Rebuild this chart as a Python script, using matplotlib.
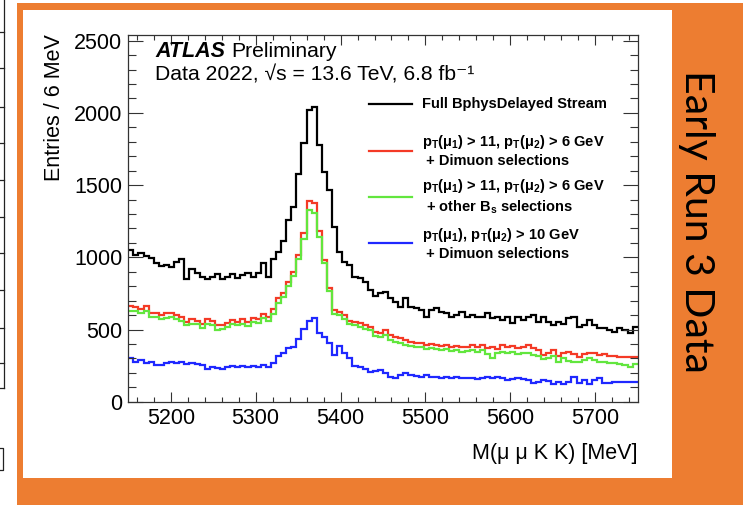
import numpy as np
import matplotlib
matplotlib.use("Agg")
import matplotlib.pyplot as plt
from matplotlib.ticker import MultipleLocator
from matplotlib.patches import Rectangle
from matplotlib.lines import Line2D

# ---- binning: 6 MeV bins from 5150 to 5750 MeV ----
mass_low, mass_high, bin_width = 5150, 5750, 6
edges = np.arange(mass_low, mass_high + 1, bin_width)

# ---- entries per bin ----
full_stream = [1050, 1016, 1027, 1009, 993, 958, 940, 947, 935, 970,
               986, 847, 916, 893, 866, 847, 866, 885, 847, 866,
               885, 854, 877, 889, 861, 889, 958, 866, 985, 1040,
               1110, 1255, 1350, 1575, 1790, 2020, 2040, 1778, 1593, 1466,
               1212, 1040, 970, 946, 866, 859, 830, 775, 735, 750,
               762, 716, 693, 653, 716, 658, 646, 635, 584, 635,
               646, 623, 612, 589, 600, 623, 584, 600, 589, 584,
               612, 577, 589, 566, 589, 543, 584, 566, 589, 600,
               554, 589, 554, 531, 554, 536, 577, 589, 519, 531,
               566, 531, 508, 508, 496, 485, 508, 496, 473, 519]

dimuon_11_6 = [662, 653, 639, 662, 611, 616, 600, 611, 611, 600,
               588, 554, 570, 561, 538, 570, 561, 531, 531, 542,
               565, 554, 570, 554, 577, 570, 607, 584, 639, 716,
               755, 831, 900, 1016, 1166, 1392, 1378, 1180, 981, 785,
               635, 623, 600, 561, 554, 543, 530, 520, 480, 473,
               496, 462, 450, 439, 427, 416, 404, 408, 392, 400,
               392, 385, 392, 381, 385, 376, 381, 392, 376, 392,
               369, 381, 362, 392, 376, 385, 369, 381, 392, 369,
               358, 323, 335, 358, 316, 335, 346, 330, 312, 330,
               339, 335, 323, 330, 316, 316, 312, 312, 307, 312]

other_bs_11_6 = [630, 625, 612, 630, 585, 590, 572, 580, 584, 570,
                 560, 530, 540, 535, 508, 540, 531, 500, 505, 515,
                 535, 528, 540, 527, 550, 545, 578, 556, 605, 685,
                 725, 800, 870, 985, 1130, 1327, 1310, 1140, 960, 765,
                 610, 600, 575, 540, 530, 520, 505, 495, 455, 450,
                 462, 427, 416, 408, 392, 385, 376, 381, 362, 369,
                 362, 358, 362, 353, 358, 346, 353, 358, 346, 358,
                 330, 300, 339, 346, 335, 346, 330, 339, 335, 323,
                 316, 293, 300, 316, 277, 300, 284, 277, 277, 288,
                 300, 288, 277, 277, 270, 265, 261, 254, 238, 261]

dimuon_10_10 = [300, 277, 289, 265, 277, 254, 254, 270, 277, 265,
                277, 261, 265, 261, 254, 224, 242, 231, 224, 238,
                247, 242, 247, 238, 247, 242, 254, 242, 270, 316,
                335, 369, 376, 432, 501, 561, 577, 473, 446, 404,
                323, 385, 340, 300, 245, 238, 225, 205, 210, 219,
                196, 173, 162, 185, 196, 185, 178, 173, 185, 173,
                168, 162, 173, 162, 173, 162, 166, 162, 155, 162,
                168, 162, 173, 162, 150, 155, 162, 155, 150, 132,
                138, 150, 145, 122, 138, 122, 138, 173, 127, 150,
                122, 150, 162, 127, 132, 138, 138, 138, 138, 138]

series = [
    (full_stream, "#000000", "Full BphysDelayed Stream"),
    (dimuon_11_6, "#f43a26",
     "p$_\\mathregular{T}$(\u03bc$_\\mathregular{1}$) > 11, p$_\\mathregular{T}$(\u03bc$_\\mathregular{2}$) > 6 GeV\n + Dimuon selections"),
    (other_bs_11_6, "#62e63e",
     "p$_\\mathregular{T}$(\u03bc$_\\mathregular{1}$) > 11, p$_\\mathregular{T}$(\u03bc$_\\mathregular{2}$) > 6 GeV\n + other B$_\\mathregular{s}$ selections"),
    (dimuon_10_10, "#1f28ff",
     "p$_\\mathregular{T}$(\u03bc$_\\mathregular{1}$), p$_\\mathregular{T}$(\u03bc$_\\mathregular{2}$) > 10 GeV\n + Dimuon selections"),
]

plt.rcParams["font.family"] = ["Liberation Sans", "DejaVu Sans"]
plt.rcParams["mathtext.fontset"] = "custom"
plt.rcParams["mathtext.rm"] = "Liberation Sans"

W, H = 743, 505
fig = plt.figure(figsize=(W / 100, H / 100), dpi=100)
fig.patch.set_facecolor("white")


def fx(px):
    return px / W


def fy(py):
    return 1 - py / H


# slide background: orange frame with white panel
fig.add_artist(Rectangle((fx(16.5), 0), 1 - fx(16.5), fy(3), transform=fig.transFigure,
                         facecolor="#ed7d31", edgecolor="none", zorder=0))
fig.add_artist(Rectangle((fx(23.3), fy(478)), fx(671.7) - fx(23.3), fy(10) - fy(478),
                         transform=fig.transFigure, facecolor="white", edgecolor="none", zorder=0))

# neighbouring slide edge on the far left
fig.add_artist(Line2D([fx(4.3), fx(4.3)], [fy(0), fy(388)], transform=fig.transFigure,
                      color="#222222", lw=0.9))
for ty in [32, 68, 107, 143, 180, 217, 253, 290, 328, 363, 388]:
    fig.add_artist(Line2D([fx(0), fx(4.3)], [fy(ty), fy(ty)], transform=fig.transFigure,
                          color="#222222", lw=0.9))
fig.add_artist(Line2D([fx(0), fx(3), fx(3), fx(0)], [fy(448), fy(448), fy(470), fy(470)],
                      transform=fig.transFigure, color="#222222", lw=0.9))

# main axes
ax_l, ax_r, ax_t, ax_b = 128.3, 637.7, 34.5, 401.7
ax = fig.add_axes([fx(ax_l), fy(ax_b), fx(ax_r) - fx(ax_l), fy(ax_t) - fy(ax_b)])
ax.set_facecolor("white")

for vals, col, _ in series:
    ax.stairs(vals, edges, color=col, lw=1.6, baseline=None)

ax.set_xlim(mass_low, mass_high)
ax.set_ylim(0, 2543)
ax.xaxis.set_major_locator(MultipleLocator(100))
ax.xaxis.set_minor_locator(MultipleLocator(20))
ax.yaxis.set_major_locator(MultipleLocator(500))
ax.yaxis.set_minor_locator(MultipleLocator(100))
ax.tick_params(axis="both", which="both", direction="in", top=True, right=True,
               color="#333333", width=0.8, labelsize=15.5)
ax.tick_params(axis="x", which="major", length=7.2, pad=4.5)
ax.tick_params(axis="x", which="minor", length=3.6)
ax.tick_params(axis="y", which="major", length=11, pad=4.3)
ax.tick_params(axis="y", which="minor", length=5.5)
for sp in ax.spines.values():
    sp.set_color("#333333")
    sp.set_linewidth(0.9)

# axis titles
fig.text(fx(ax_r), fy(459), "M(\u03bc \u03bc K K) [MeV]", ha="right", va="baseline",
         fontsize=15.5)
fig.text(fx(55), fy(ax_t), "Entries / 6 MeV", rotation=90, ha="center", va="top",
         fontsize=15.5)

# experiment labels
ax.text(0.0524, 0.9387, "ATLAS", transform=ax.transAxes, fontsize=15.5,
        fontweight="bold", fontstyle="italic", va="baseline", ha="left")
ax.text(0.2016, 0.9387, "Preliminary", transform=ax.transAxes, fontsize=15.2,
        va="baseline", ha="left")
ax.text(0.0524, 0.8734,
        "Data 2022, \u221as = 13.6 TeV, 6.8 fb\u207b\u00b9",
        transform=ax.transAxes, fontsize=15.2, va="baseline", ha="left")

# legend
leg_x0, leg_x1, leg_tx = 0.4725, 0.5569, 0.576
leg_y = [0.8107, 0.6836, 0.5583, 0.4314]
for (vals, col, lab), yy in zip(series, leg_y):
    ax.plot([leg_x0, leg_x1], [yy, yy], transform=ax.transAxes, color=col, lw=1.6,
            clip_on=False)
    ax.text(leg_tx, yy, lab, transform=ax.transAxes, fontsize=10.5, fontweight="bold",
            va="center", ha="left", linespacing=1.25)

# side caption
fig.text(fx(697), fy(221), "Early Run 3 Data", rotation=-90, ha="center", va="center",
         fontsize=29.5, family=["Lato", "DejaVu Sans"], color="black")

fig.savefig("out.png", dpi=100)
